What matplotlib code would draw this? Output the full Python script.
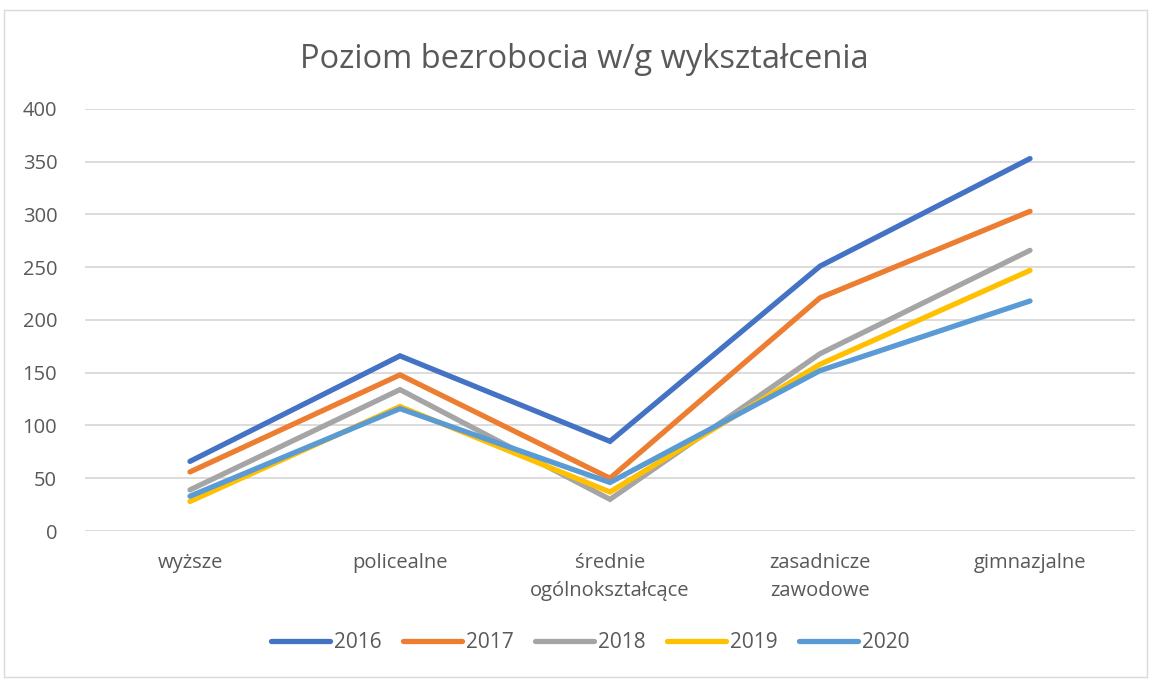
import matplotlib.pyplot as plt
from matplotlib.patches import Rectangle

plt.rcParams['font.family'] = ['Open Sans', 'DejaVu Sans']

# dane
kategorie = ['wyższe', 'policealne', 'średnie\nogólnokształcące',
             'zasadnicze\nzawodowe', 'gimnazjalne']
lata = ['2016', '2017', '2018', '2019', '2020']
w2016 = [66, 166, 85, 251, 353]
w2017 = [56, 148, 50, 221, 303]
w2018 = [39, 134, 30, 168, 266]
w2019 = [28, 118, 37, 158, 247]
w2020 = [33, 116, 46, 152, 218]
kolory = ['#4472C4', '#ED7D31', '#A5A5A5', '#FFC000', '#5B9BD5']

fig = plt.figure(figsize=(11.53, 6.82), dpi=100)
ax = fig.add_axes([0.0737, 0.2214, 0.9107, 0.6188])

x = range(len(kategorie))
for seria, rok, kol in zip([w2016, w2017, w2018, w2019, w2020], lata, kolory):
    ax.plot(x, seria, color=kol, linewidth=3.8, label=rok,
            solid_capstyle='round', solid_joinstyle='miter')

ax.set_xlim(-0.5, 4.5)
ax.set_ylim(0, 400)
ax.set_yticks(range(0, 401, 50))
ax.set_xticks(list(x))
ax.set_xticklabels(kategorie, linespacing=1.5)
ax.grid(axis='y', color='#D9D9D9', linewidth=1.3)
ax.set_axisbelow(True)
for s in ax.spines.values():
    s.set_visible(False)
ax.tick_params(axis='both', length=0, labelsize=14.5, colors='#595959')
ax.tick_params(axis='y', pad=20)
ax.tick_params(axis='x', pad=16)

fig.text(0.507, 0.913, 'Poziom bezrobocia w/g wykształcenia', ha='center',
         va='center', fontsize=23.5, color='#595959')

ax.legend(loc='center', bbox_to_anchor=(0.512, 1 - 643 / 682),
          bbox_transform=fig.transFigure,
          ncol=5, frameon=False, fontsize=15, handlelength=2.8,
          handletextpad=0.2, columnspacing=1.05, labelcolor='#595959')

# ramka wykresu
fig.patches.append(Rectangle((4 / 1153, 5 / 682), 1143 / 1153, 667 / 682,
                             transform=fig.transFigure, fill=False,
                             edgecolor='#D9D9D9', linewidth=1))

fig.savefig('out.png', dpi=100)
